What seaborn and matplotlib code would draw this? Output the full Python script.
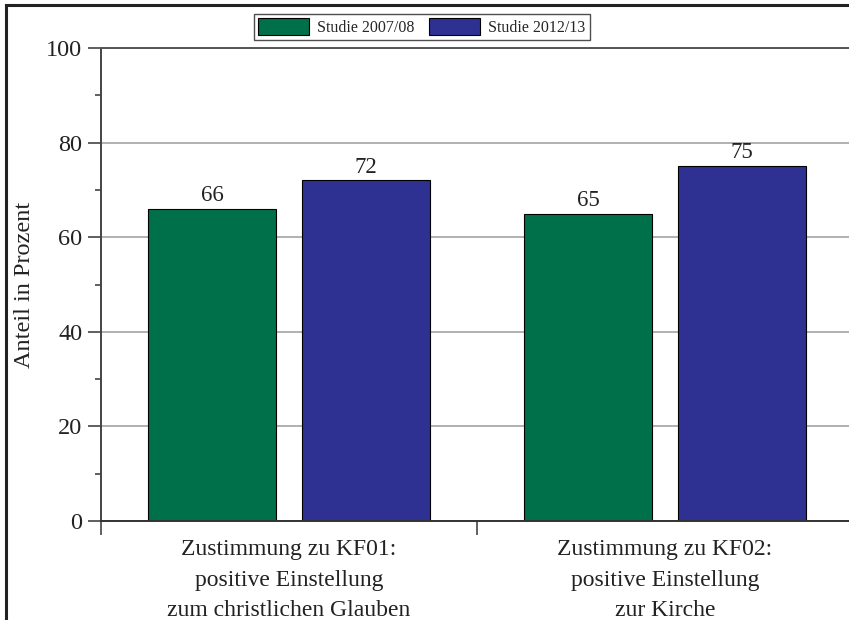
import pandas as pd
import seaborn as sns
import matplotlib.pyplot as plt
from matplotlib.patches import Rectangle
from matplotlib.ticker import MultipleLocator, FixedLocator

# Data
categories = ["Zustimmung zu KF01:\npositive Einstellung\nzum christlichen Glauben",
              "Zustimmung zu KF02:\npositive Einstellung\nzur Kirche"]
studies = ["Studie 2007/08", "Studie 2012/13"]
values_0708 = [66, 65]
values_1213 = [72, 75]
colors = ["#00704A", "#2E3192"]

df = pd.DataFrame({
    "Kategorie": categories * 2,
    "Studie": [studies[0]] * 2 + [studies[1]] * 2,
    "Anteil": values_0708 + values_1213,
})

sns.set_style("white")
plt.rcParams['font.family'] = ['Liberation Serif', 'DejaVu Serif']

fig = plt.figure(figsize=(8.49, 6.20), dpi=100)
ax = fig.add_axes([101 / 849, 99 / 620, 752 / 849, 473 / 620])

sns.barplot(data=df, x="Kategorie", y="Anteil", hue="Studie", palette=colors,
            width=0.82, gap=0.17, edgecolor="black", linewidth=0.8,
            saturation=1, ax=ax)

ax.set_xlim(-0.5, 1.5)
ax.set_ylim(0, 100)

# value labels
for cont in ax.containers:
    ax.bar_label(cont, fmt="%d", padding=2, fontsize=16.5, color="#222222")

# y axis
ax.yaxis.set_major_locator(MultipleLocator(20))
ax.yaxis.set_minor_locator(MultipleLocator(10))
ax.tick_params(axis="y", which="both", left=True)
ax.tick_params(axis="y", which="major", direction="out", length=9.5, width=1.2,
               color="#444444", labelsize=17.5, labelcolor="#222222", pad=4)
ax.tick_params(axis="y", which="minor", direction="out", length=4.5, width=1.2,
               color="#444444")
ax.grid(axis="y", which="major", color="#AAAAAA", linewidth=1.3)
ax.grid(axis="y", which="minor", visible=False)
ax.set_axisbelow(True)
ax.set_ylabel("Anteil in Prozent", fontsize=17.5, color="#222222", labelpad=8)

# x axis
ax.set_xlabel("")
ax.xaxis.set_minor_locator(FixedLocator([-0.5, 0.5, 1.5]))
ax.tick_params(axis="x", which="both", bottom=True)
ax.tick_params(axis="x", which="major", length=0, labelsize=17,
               labelcolor="#222222", pad=13)
ax.tick_params(axis="x", which="minor", direction="out", length=10, width=1.2,
               color="#444444")
for lbl in ax.get_xticklabels():
    lbl.set_linespacing(1.6)

for side in ["left", "bottom", "top"]:
    ax.spines[side].set_visible(True)
    ax.spines[side].set_linewidth(1.4)
ax.spines["left"].set_color("#444444")
ax.spines["bottom"].set_color("#333333")
ax.spines["top"].set_color("#555555")
ax.spines["right"].set_visible(False)

# legend above the plot
ax.legend_.remove()
handles, labels = ax.get_legend_handles_labels()
leg = fig.legend(handles, labels, loc="center", bbox_to_anchor=(0.497, 0.957),
                 ncol=2, fontsize=11.5, frameon=True, fancybox=False,
                 handlelength=3.2, handleheight=1.3, handletextpad=0.5,
                 columnspacing=0.9, borderpad=0.25, borderaxespad=0)
leg.get_frame().set_edgecolor("#222222")
leg.get_frame().set_linewidth(1.0)

# outer frame of the figure (cut off on the right and bottom)
fig.patches.append(Rectangle((5.5 / 849, -0.1), 1.2, 1.1 - 5.5 / 620,
                             transform=fig.transFigure, fill=False,
                             edgecolor="#222222", linewidth=2.2))

fig.savefig("out.png", dpi=100)
